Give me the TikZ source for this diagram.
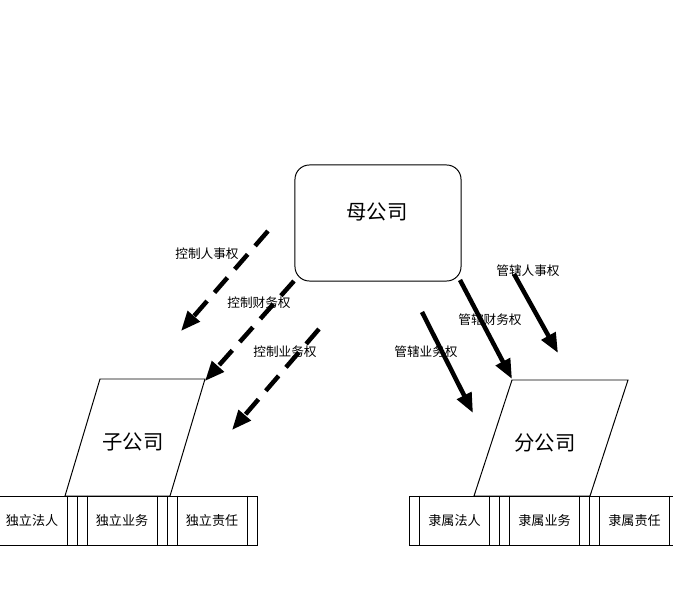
\documentclass[tikz,border=0pt]{standalone}
\usepackage{fontspec}
\newfontfamily\cjk{Noto Sans CJK SC}
\usetikzlibrary{arrows.meta,calc}

\begin{document}
\begin{tikzpicture}[
  x=0.025cm, y=-0.025cm,
  font=\cjk,
  parentbox/.style={draw, line width=0.7pt, rounded corners=0.36cm, minimum width=4.15cm, minimum height=2.9cm},
  procbox/.style={draw, line width=0.6pt, minimum width=2.25cm, minimum height=1.225cm, inner sep=0pt, font=\cjk\fontsize{9.3pt}{11pt}\selectfont},
  bigname/.style={font=\cjk\fontsize{14.5pt}{17pt}\selectfont},
  armlab/.style={font=\cjk\fontsize{9pt}{11pt}\selectfont, inner sep=0pt},
  ctrl/.style={line width=3.2pt, dash pattern=on 14pt off 8pt, -{Triangle[length=14pt, width=11pt]}},
  govern/.style={line width=3.2pt, -{Triangle[length=14pt, width=11pt]}}
]
\useasboundingbox (0,0) rectangle (673,599);
\clip (0,0) rectangle (673,599);

% parent company
\node[parentbox] (parent) at (378,223) {};
\node[bigname] (parentname) at (377,212) {母公司};

% subsidiary and branch
\draw[line width=0.7pt] (100,379) -- (205,379) -- (170,496) -- (65,496) -- cycle;
\node[bigname] (subname) at (133,442) {子公司};
\draw[line width=0.7pt] (512,380) -- (628,380) -- (590,496) -- (474,496) -- cycle;
\node[bigname] (branchname) at (545,443) {分公司};

% bottom rows
\foreach \txt [count=\i] in {独立法人,独立业务,独立责任} {
  \node[procbox] (sub\i) at ({-58+90*\i},520.5) {\txt};
  \draw[line width=0.6pt] ([xshift=0.26cm]sub\i.north west) -- ([xshift=0.26cm]sub\i.south west);
  \draw[line width=0.6pt] ([xshift=-0.26cm]sub\i.north east) -- ([xshift=-0.26cm]sub\i.south east);
}
\foreach \txt [count=\i] in {隶属法人,隶属业务,隶属责任} {
  \node[procbox] (br\i) at ({364.5+90*\i},520.5) {\txt};
  \draw[line width=0.6pt] ([xshift=0.26cm]br\i.north west) -- ([xshift=0.26cm]br\i.south west);
  \draw[line width=0.6pt] ([xshift=-0.26cm]br\i.north east) -- ([xshift=-0.26cm]br\i.south east);
}

% control arrows (dashed)
\foreach \nm/\sx/\sy/\tx/\ty in {ca/268/231/181/331, cb/294/281/205/381, cc/319/329/232/430} {
  \coordinate (\nm s) at (\sx,\sy);
  \coordinate (\nm t) at (\tx,\ty);
  \draw[ctrl] (\nm s) -- (\nm t);
}
\node[armlab] (ctrlstaff) at (207,254) {控制人事权};
\node[armlab] (ctrlfin) at (259,303) {控制财务权};
\node[armlab] (ctrlbiz) at (285,352) {控制业务权};

% governing arrows (solid)
\foreach \nm/\sx/\sy/\tx/\ty in {ga/514/274/558/353, gb/460/280/512/379, gc/422/312/473/413} {
  \coordinate (\nm s) at (\sx,\sy);
  \coordinate (\nm t) at (\tx,\ty);
  \draw[govern] (\nm s) -- (\nm t);
}
\node[armlab] (govstaff) at (528,271) {管辖人事权};
\node[armlab] (govfin) at (490,320) {管辖财务权};
\node[armlab] (govbiz) at (426,352) {管辖业务权};
\end{tikzpicture}
\end{document}
